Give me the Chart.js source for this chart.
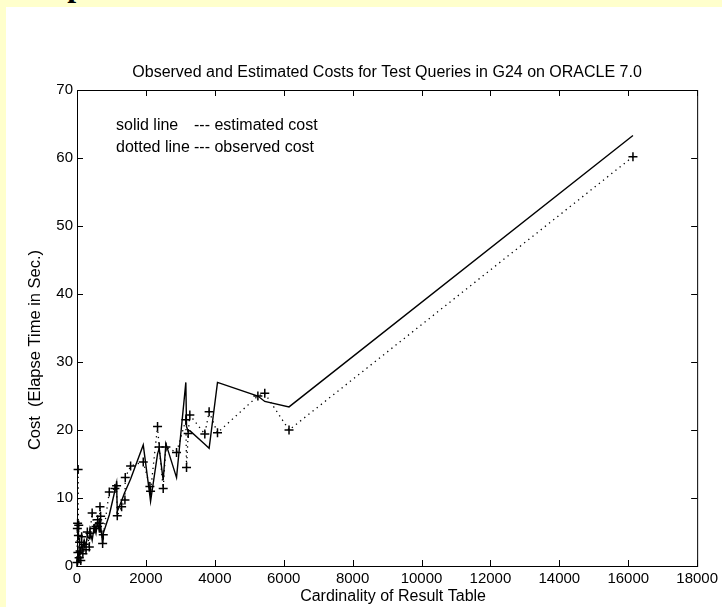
<!DOCTYPE html>
<html>
<head>
<meta charset="utf-8">
<script src="https://cdn.jsdelivr.net/npm/chart.js@4.4.1/dist/chart.umd.min.js"></script>
<style>
  html, body { margin: 0; padding: 0; }
  body { width: 722px; height: 607px; background: #ffffcc; position: relative; overflow: hidden; }
  .heading { position: absolute; left: 30px; top: -31px; font: bold 32px/32px "Liberation Serif", serif; color: #000; white-space: nowrap; }
  .panel { position: absolute; left: 6px; top: 7px; width: 716px; height: 600px; background: #fff; }
</style>
</head>
<body>
<div class="heading">Experiments</div>
<div class="panel"><canvas id="chart" width="716" height="600"></canvas></div>
<script>
// test queries, sorted by result table cardinality
const cardinality = [
  0, 10, 18, 25, 32, 40, 50, 62, 75, 90,
  110, 136, 170, 210, 261, 300, 357, 377, 440, 500,
  551, 600, 647, 667, 686, 744, 763, 937, 1101, 1149,
  1169, 1295, 1391, 1401, 1556, 1923, 2116, 2135, 2338, 2386,
  2502, 2580, 2889, 3159, 3179, 3227, 3275, 3710, 3835, 4078,
  5250, 5450, 6154, 16137
]

// seconds
const estimatedCost = [
  0.2, 0.8, 0.4, 1.2, 0.6, 1.8, 1.0, 2.2, 1.5, 2.8,
  2.0, 3.2, 2.5, 3.8, 3.0, 4.5, 4.0, 5.2, 3.8, 5.8,
  4.8, 6.5, 5.0, 7.0, 6.0, 3.3, 4.8, 7.5, 11.1, 12.2,
  8.0, 9.6, 10.9, 11.0, 12.8, 17.8, 10.3, 9.5, 16.5, 17.3,
  12.6, 18.0, 13.0, 27.0, 20.5, 19.8, 19.9, 17.9, 17.3, 27.0,
  25.0, 24.2, 23.4, 63.3
]

const observedCost = [
  0.5, 5.5, 6.3, 2.0, 14.2, 4.5, 6.0, 1.2, 3.5, 2.2,
  0.8, 4.3, 1.8, 3.2, 2.4, 5.0, 2.8, 4.8, 7.8, 5.5,
  5.8, 6.8, 6.3, 8.7, 7.3, 3.3, 4.6, 10.9, 11.4, 11.8,
  7.4, 8.7, 9.7, 13.0, 14.7, 15.3, 11.7, 11.0, 20.5, 17.5,
  11.4, 17.5, 16.7, 21.5, 14.5, 19.5, 22.2, 19.4, 22.7, 19.6,
  25.0, 25.4, 20.0, 60.2
]

const chartTitle = "Observed and Estimated Costs for Test Queries in G24 on ORACLE 7.0"
const xTitle = "Cardinality of Result Table"
const yTitle = "Cost  (Elapse Time in Sec.)"
const legendLines = [
  ["solid line", "--- estimated cost"],
  ["dotted line", "--- observed cost"]
]

const FONT = "'Liberation Sans', Arial, Helvetica, sans-serif"

function pairs(values) {
  return cardinality.map((x, i) => ({ x: x, y: values[i] }))
}

// matlab style box: full frame, ticks pointing inward on all four sides,
// titles and a plain text legend
const axesBox = {
  id: "axesBox",
  afterDraw(chart) {
    const { ctx, chartArea: a, scales: { x, y } } = chart
    const len = 6
    ctx.save()
    ctx.strokeStyle = "#000"
    ctx.lineWidth = 1
    ctx.strokeRect(a.left + 0.5, a.top + 0.5, a.right - a.left, a.bottom - a.top)
    ctx.beginPath()
    x.ticks.forEach(t => {
      const px = Math.round(x.getPixelForValue(t.value)) + 0.5
      ctx.moveTo(px, a.bottom); ctx.lineTo(px, a.bottom - len)
      ctx.moveTo(px, a.top); ctx.lineTo(px, a.top + len)
    })
    y.ticks.forEach(t => {
      const py = Math.round(y.getPixelForValue(t.value)) + 0.5
      ctx.moveTo(a.left, py); ctx.lineTo(a.left + len, py)
      ctx.moveTo(a.right, py); ctx.lineTo(a.right - len, py)
    })
    ctx.stroke()

    ctx.fillStyle = "#000"
    ctx.textBaseline = "middle"
    ctx.font = "16px " + FONT
    ctx.textAlign = "center"
    const midX = (a.left + a.right) / 2
    ctx.fillText(chartTitle, midX, a.top - 17)
    ctx.fillText(xTitle, midX + 6, a.bottom + 31)

    ctx.save()
    ctx.font = "16.5px " + FONT
    ctx.translate(29, (a.top + a.bottom) / 2 + 22)
    ctx.rotate(-Math.PI / 2)
    ctx.fillText(yTitle, 0, 0)
    ctx.restore()

    ctx.textAlign = "left"
    legendLines.forEach((line, i) => {
      const ly = a.top + 36 + i * 22
      ctx.fillText(line[0], a.left + 39, ly)
      ctx.fillText(line[1], a.left + 117, ly)
    })
    ctx.restore()
  }
}

new Chart(document.getElementById("chart"), {
  type: "scatter",
  data: {
    datasets: [
      {
        label: "estimated cost",
        data: pairs(estimatedCost),
        showLine: true,
        borderColor: "#000",
        borderWidth: 1.4,
        pointRadius: 0,
        clip: false
      },
      {
        label: "observed cost",
        data: pairs(observedCost),
        showLine: true,
        borderColor: "#000",
        borderWidth: 1.3,
        borderDash: [1.3, 4],
        pointStyle: "cross",
        pointRadius: 4.5,
        pointBorderWidth: 1.5,
        pointBorderColor: "#000",
        pointBackgroundColor: "#000",
        clip: false
      }
    ]
  },
  options: {
    responsive: false,
    animation: false,
    layout: { padding: { left: 0, right: 24, top: 83, bottom: 0 } },
    plugins: {
      legend: { display: false },
      tooltip: { enabled: false },
      title: { display: false }
    },
    scales: {
      x: {
        type: "linear",
        min: 0,
        max: 18000,
        grid: { display: false, drawTicks: false },
        border: { display: false },
        ticks: {
          stepSize: 2000,
          color: "#000",
          padding: 4,
          maxRotation: 0,
          font: { family: FONT, size: 15 },
          callback: v => String(v)
        },
        afterFit(scale) { scale.height = 41 }
      },
      y: {
        min: 0,
        max: 70,
        grid: { display: false, drawTicks: false },
        border: { display: false },
        ticks: {
          stepSize: 10,
          color: "#000",
          padding: 4,
          font: { family: FONT, size: 15 },
          callback: v => String(v)
        },
        afterFit(scale) { scale.width = 71 }
      }
    }
  },
  plugins: [axesBox]
})
</script>
</body>
</html>
